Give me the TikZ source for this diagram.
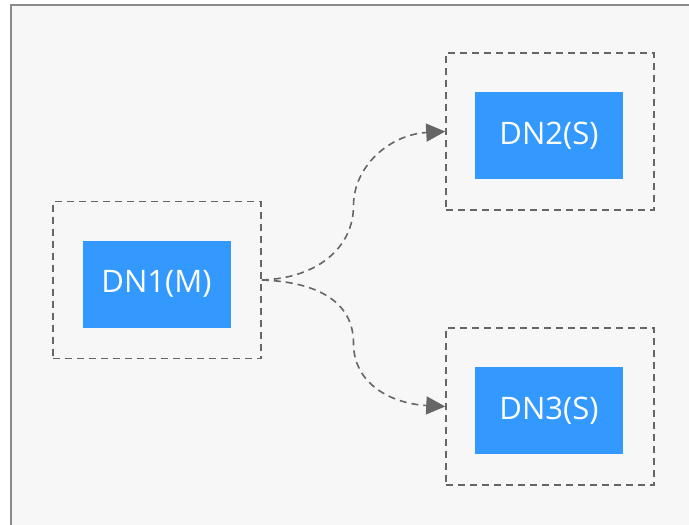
\documentclass[tikz,border=0pt]{standalone}
\usepackage{fontspec}
\setmainfont{Open Sans}
\usepackage{xcolor}
\usepackage{tikz}
\usetikzlibrary{positioning,calc,arrows.meta}
\definecolor{nodeblue}{HTML}{3399FF}
\definecolor{linegray}{HTML}{666666}
\definecolor{framegray}{HTML}{8C8C8C}
\definecolor{bggray}{HTML}{F7F7F7}

\begin{document}
\begin{tikzpicture}[x=1pt, y=-1pt,
    hostbox/.style={draw=linegray, line width=1.6pt, dash pattern=on 7pt off 5pt,
        minimum width=208pt, minimum height=157pt, inner sep=0pt},
    dnode/.style={fill=nodeblue, text=white, minimum width=148pt, minimum height=87pt,
        inner sep=0pt, font=\fontsize{31}{36}\selectfont},
    flow/.style={draw=linegray, line width=1.6pt, dash pattern=on 7pt off 5pt,
        -{Triangle[length=19pt,width=18pt]}}]
    \useasboundingbox (0,0) rectangle (689,525);
    % Frame
    \draw [fill=bggray, draw=framegray, line width=2pt] (11,5) rectangle (720,560);

    % Master
    \node [hostbox] (dn1box) at (157,280) {};
    \node [dnode] (dn1) at (156.5,284) {DN1(M)};

    % Slaves
    \node [hostbox] (dn2box) at (550,131.5) {};
    \node [dnode] (dn2) at (549,135.5) {DN2(S)};
    \node [hostbox] (dn3box) at (550,406.5) {};
    \node [dnode] (dn3) at (549,410.5) {DN3(S)};

    % Replication
    \coordinate (m2) at ($(dn1box.east)!0.5!(dn2box.west)$);
    \coordinate (m3) at ($(dn1box.east)!0.5!(dn3box.west)$);
    \draw [flow] (dn1box.east) .. controls +(58,-2) and +(0,40) .. (m2)
        .. controls +(0,-40) and +(-55,3) .. (dn2box.west);
    \draw [flow] (dn1box.east) .. controls +(58,2) and +(0,-40) .. (m3)
        .. controls +(0,40) and +(-55,-3) .. (dn3box.west);
\end{tikzpicture}
\end{document}
